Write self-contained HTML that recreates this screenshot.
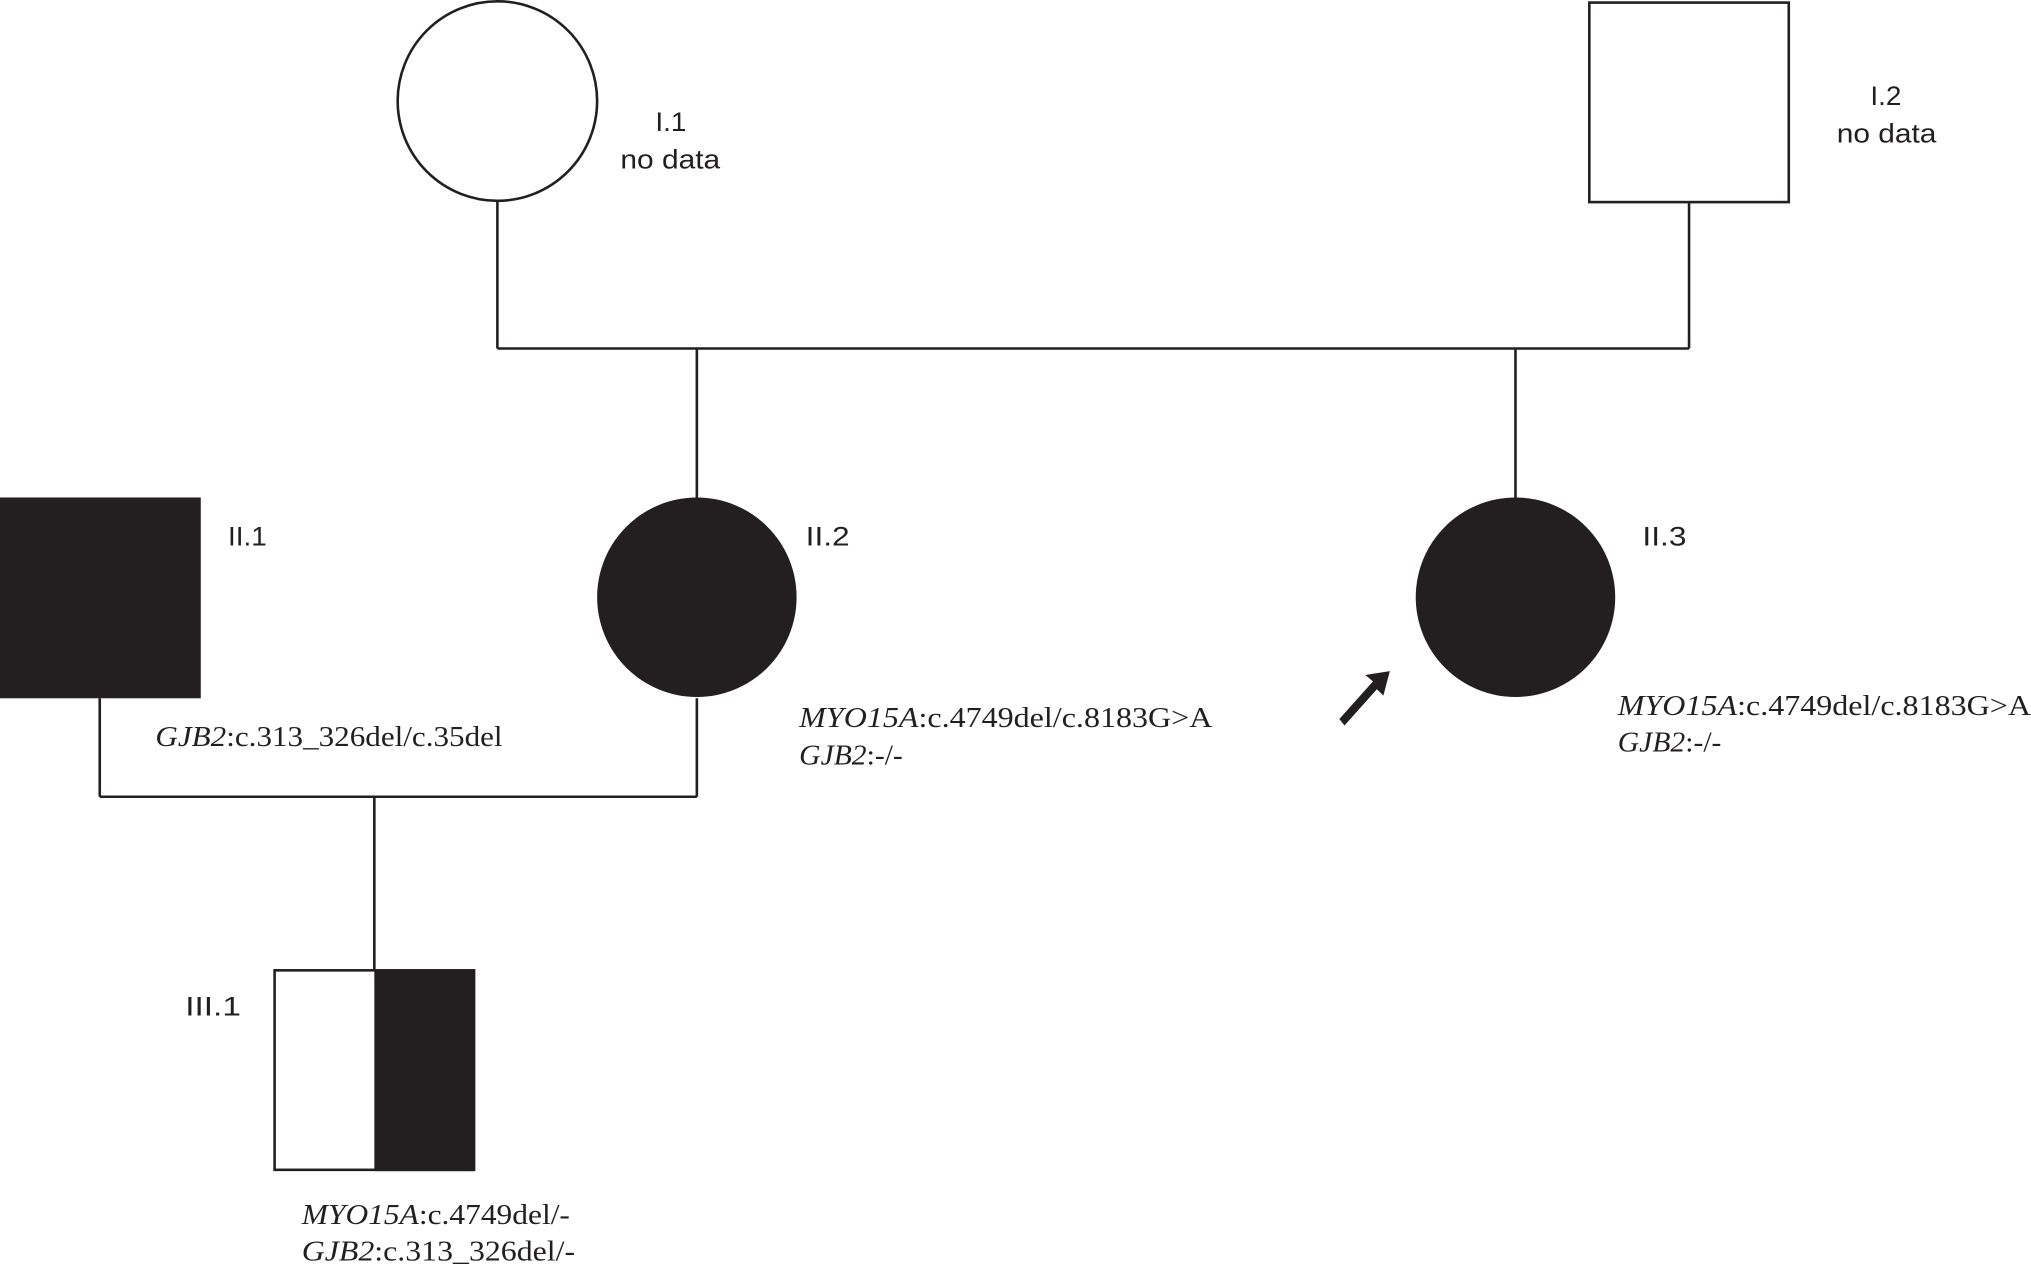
<!DOCTYPE html>
<html><head><meta charset="utf-8"><style>
html,body{margin:0;padding:0;background:#fff;}
svg{display:block;}
.s{font-family:"Liberation Sans",sans-serif;font-size:21px;fill:#231f20;}
.t{font-family:"Liberation Serif",serif;font-size:22px;fill:#231f20;}
</style></head><body>
<svg width="2031" height="1267" viewBox="0 0 1568 978" preserveAspectRatio="none" xmlns="http://www.w3.org/2000/svg">
<g stroke="#231f20" stroke-width="2" fill="none">
<circle cx="384" cy="78" r="77" fill="#fff"/>
<rect x="1227" y="2" width="154" height="154" fill="#fff"/>
<line x1="384" y1="155" x2="384" y2="269"/>
<line x1="1304" y1="156" x2="1304" y2="269"/>
<line x1="384" y1="269" x2="1304" y2="269"/>
<line x1="538" y1="269" x2="538" y2="384"/>
<line x1="1170" y1="269" x2="1170" y2="384"/>
<line x1="77" y1="539" x2="77" y2="615"/>
<line x1="538" y1="539" x2="538" y2="615"/>
<line x1="77" y1="615" x2="538" y2="615"/>
<line x1="289" y1="615" x2="289" y2="749"/>
<rect x="212" y="749" width="154" height="154" fill="#fff"/>
</g>
<g fill="#231f20">
<rect x="0" y="384" width="155" height="155"/>
<circle cx="538" cy="461" r="77"/>
<circle cx="1170" cy="461" r="77"/>
<rect x="289" y="749" width="77" height="155"/>
<polygon points="1034,555 1060,526 1054,521 1073,518 1068,537 1063,532 1038,560"/>
</g>
<text class="s" x="506" y="101" textLength="24" lengthAdjust="spacingAndGlyphs">I.1</text>
<text class="s" x="479" y="130" textLength="77" lengthAdjust="spacingAndGlyphs">no data</text>
<text class="s" x="1444" y="81" textLength="24" lengthAdjust="spacingAndGlyphs">I.2</text>
<text class="s" x="1418" y="110" textLength="77" lengthAdjust="spacingAndGlyphs">no data</text>
<text class="s" x="176" y="421" textLength="30" lengthAdjust="spacingAndGlyphs">II.1</text>
<text class="s" x="622" y="421" textLength="34" lengthAdjust="spacingAndGlyphs">II.2</text>
<text class="s" x="1268" y="421" textLength="34" lengthAdjust="spacingAndGlyphs">II.3</text>
<text class="s" x="143" y="784" textLength="43" lengthAdjust="spacingAndGlyphs">III.1</text>
<text class="t" x="120" y="576" textLength="268" lengthAdjust="spacingAndGlyphs"><tspan font-style="italic">GJB2</tspan>:c.313_326del/c.35del</text>
<text class="t" x="617" y="561" textLength="319" lengthAdjust="spacingAndGlyphs"><tspan font-style="italic">MYO15A</tspan>:c.4749del/c.8183G&gt;A</text>
<text class="t" x="617" y="590" textLength="80" lengthAdjust="spacingAndGlyphs"><tspan font-style="italic">GJB2</tspan>:-/-</text>
<text class="t" x="1249" y="552" textLength="319" lengthAdjust="spacingAndGlyphs"><tspan font-style="italic">MYO15A</tspan>:c.4749del/c.8183G&gt;A</text>
<text class="t" x="1249" y="580" textLength="80" lengthAdjust="spacingAndGlyphs"><tspan font-style="italic">GJB2</tspan>:-/-</text>
<text class="t" x="233" y="945" textLength="207" lengthAdjust="spacingAndGlyphs"><tspan font-style="italic">MYO15A</tspan>:c.4749del/-</text>
<text class="t" x="233" y="973" textLength="211" lengthAdjust="spacingAndGlyphs"><tspan font-style="italic">GJB2</tspan>:c.313_326del/-</text>
</svg>
</body></html>
